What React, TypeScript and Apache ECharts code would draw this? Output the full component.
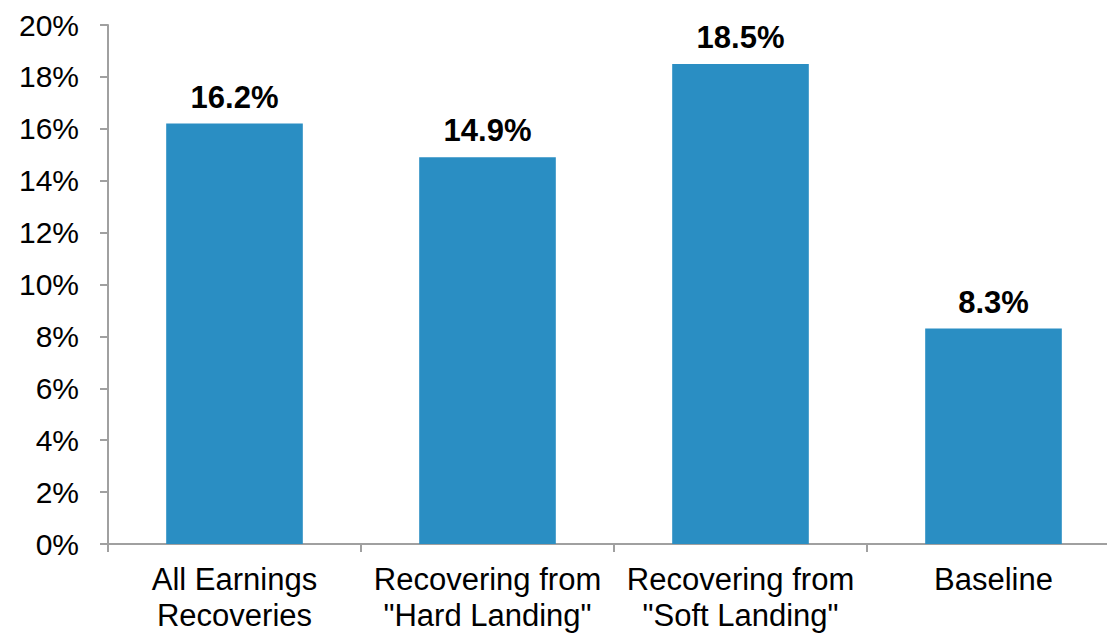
import React, { useEffect, useRef } from "react";
import * as echarts from "echarts";

const categories = [
  "All Earnings\nRecoveries",
  "Recovering from\n\"Hard Landing\"",
  "Recovering from\n\"Soft Landing\"",
  "Baseline",
];
const values = [16.2, 14.9, 18.5, 8.3];

export default function App() {
  const ref = useRef<HTMLDivElement>(null);
  useEffect(() => {
    document.body.style.margin = "0";
    const chart = echarts.init(ref.current!, null, { renderer: "svg" });
    const font = "Liberation Sans, Arial, sans-serif";
    chart.setOption({
      animation: false,
      backgroundColor: "#ffffff",
      grid: { left: 108, right: 0, top: 25, bottom: 91, containLabel: false },
      xAxis: {
        type: "category",
        data: categories,
        axisLine: { lineStyle: { color: "#a0a0a0", width: 2 } },
        axisTick: { show: true, length: 8, lineStyle: { color: "#a0a0a0", width: 2 } },
        axisLabel: {
          color: "#000",
          fontSize: 31,
          fontFamily: font,
          lineHeight: 36,
          margin: 17,
          interval: 0,
        },
      },
      yAxis: {
        type: "value",
        min: 0,
        max: 20,
        interval: 2,
        splitLine: { show: false },
        axisLine: { show: true, lineStyle: { color: "#a0a0a0", width: 2 } },
        axisTick: { show: true, length: 8, lineStyle: { color: "#a0a0a0", width: 2 } },
        axisLabel: {
          color: "#000",
          fontSize: 30,
          fontFamily: font,
          margin: 29,
          formatter: (v: number) => v + "%",
        },
      },
      series: [
        {
          type: "bar",
          data: values,
          barCategoryGap: "46%",
          itemStyle: { color: "#2A8EC3" },
          label: {
            show: true,
            position: "top",
            distance: 11,
            color: "#000",
            fontWeight: "bold",
            fontSize: 31,
            fontFamily: font,
            formatter: (p: any) => p.value.toFixed(1) + "%",
          },
        },
      ],
    });
    return () => chart.dispose();
  }, []);
  return (
    <div style={{ width: 1107, height: 635, overflow: "hidden", position: "relative" }}>
      <div ref={ref} style={{ width: 1120, height: 635 }} />
    </div>
  );
}
